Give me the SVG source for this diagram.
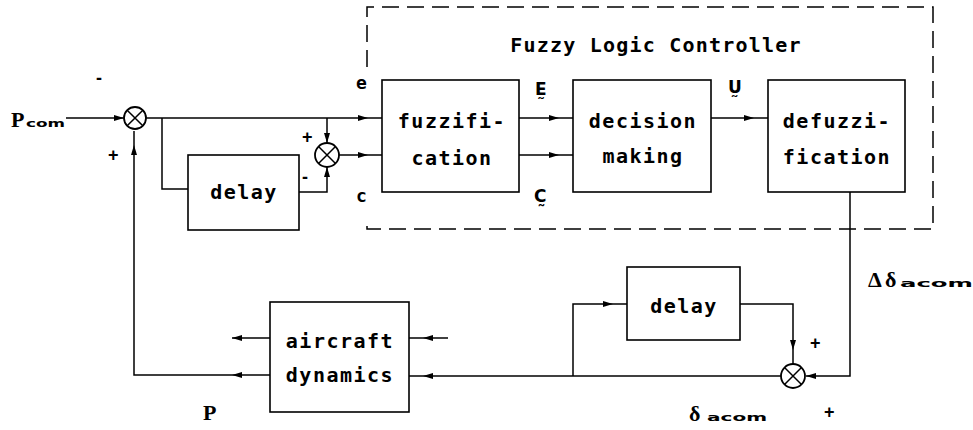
<svg xmlns="http://www.w3.org/2000/svg" width="973" height="430" viewBox="0 0 973 430">
<style>
.box{fill:none;stroke:#000;stroke-width:1.6}
.ln{fill:none;stroke:#000;stroke-width:1.5}
.dash{fill:none;stroke:#000;stroke-width:1.5;stroke-dasharray:17 8}
.sum{fill:#fff;stroke:#000;stroke-width:1.8}
.t{font-family:"DejaVu Sans Mono",monospace;font-weight:bold;font-size:20px;letter-spacing:1.5px;text-anchor:middle;fill:#000}
.l{font-family:"DejaVu Sans Mono",monospace;font-weight:bold;font-size:18px;fill:#000}
.fz{font-family:"DejaVu Sans",sans-serif;font-weight:bold;font-size:17px;fill:#000}
.s{font-family:"Liberation Serif",serif;font-weight:bold;fill:#000}
.sub{font-family:"DejaVu Sans",sans-serif;font-weight:bold;font-size:11px;fill:#000}
.sg{font-family:"Liberation Sans",sans-serif;font-weight:bold;font-size:18px;fill:#000}
</style>
<defs>
<marker id="a" markerUnits="userSpaceOnUse" markerWidth="10" markerHeight="8" viewBox="0 0 10 8" refX="10" refY="4" orient="auto"><path d="M0,1 L10,4 L0,7 z" fill="#000"/></marker>
<marker id="g" markerUnits="userSpaceOnUse" markerWidth="24" markerHeight="8" viewBox="0 0 24 8" refX="24" refY="4" orient="auto"><path d="M0,1 L10,4 L0,7 z" fill="#000"/></marker>
</defs>

<g id="flc-boundary">
<path class="dash" d="M367,67 V7 H933 V229 H367 V218"/>
<text class="t" x="656" y="52" style="letter-spacing:1.2px">Fuzzy Logic Controller</text>
</g>

<g id="connectors">
<path class="ln" d="M66,118 H124" marker-end="url(#a)"/>
<path class="ln" d="M146,118 H382" marker-end="url(#g)"/>
<path class="ln" d="M162,118 V189 H188"/>
<path class="ln" d="M327,118 V143" marker-end="url(#a)"/>
<path class="ln" d="M299,192 H327 V167" marker-end="url(#a)"/>
<path class="ln" d="M339,155 H382" marker-end="url(#g)"/>
<path class="ln" d="M519,118 H573" marker-end="url(#g)"/>
<path class="ln" d="M519,155 H573" marker-end="url(#g)"/>
<path class="ln" d="M711,118 H768" marker-end="url(#g)"/>
<path class="ln" d="M850,192 V376 H806" marker-end="url(#a)"/>
<path class="ln" d="M781,376 H409" marker-end="url(#g)"/>
<path class="ln" d="M573,376 V304 H627" marker-end="url(#g)"/>
<path class="ln" d="M740,304 H793 V364" marker-end="url(#g)"/>
<path class="ln" d="M448,338 H409" marker-end="url(#g)"/>
<path class="ln" d="M270,338 H232" marker-end="url(#a)"/>
<path class="ln" d="M270,375 H232" marker-end="url(#a)"/>
<path class="ln" d="M232,375 H134 V131" marker-end="url(#g)"/>
</g>

<g id="sum1">
<circle class="sum" cx="135" cy="118" r="11"/>
<path class="ln" d="M127.2,110.2 L142.8,125.8 M142.8,110.2 L127.2,125.8"/>
</g>
<g id="sum2">
<circle class="sum" cx="327" cy="155" r="12"/>
<path class="ln" d="M318.5,146.5 L335.5,163.5 M335.5,146.5 L318.5,163.5"/>
</g>
<g id="sum3">
<circle class="sum" cx="793" cy="376" r="12"/>
<path class="ln" d="M784.5,367.5 L801.5,384.5 M801.5,367.5 L784.5,384.5"/>
</g>

<g id="delay1">
<rect class="box" x="188" y="155" width="111" height="75"/>
<text class="t" x="244" y="199">delay</text>
</g>
<g id="fuzzification">
<rect class="box" x="382" y="80" width="137" height="112"/>
<text class="t" x="452" y="128">fuzzifi-</text>
<text class="t" x="452" y="165">cation</text>
</g>
<g id="decision">
<rect class="box" x="573" y="80" width="138" height="112"/>
<text class="t" x="643" y="128">decision</text>
<text class="t" x="643" y="163">making</text>
</g>
<g id="defuzzification">
<rect class="box" x="768" y="80" width="137" height="112"/>
<text class="t" x="837" y="128">defuzzi-</text>
<text class="t" x="837" y="164">fication</text>
</g>
<g id="delay2">
<rect class="box" x="627" y="267" width="113" height="73"/>
<text class="t" x="684" y="313">delay</text>
</g>
<g id="aircraft">
<rect class="box" x="270" y="302" width="139" height="110"/>
<text class="t" x="340" y="348">aircraft</text>
<text class="t" x="340" y="382">dynamics</text>
</g>

<g id="labels">
<text class="s" x="11" y="127" font-size="22">P</text>
<text class="sub" x="26" y="127" textLength="39" lengthAdjust="spacingAndGlyphs">com</text>
<text class="sg" x="96" y="84">-</text>
<text class="sg" x="108" y="161">+</text>
<text class="sg" x="302" y="143" font-size="22">+</text>
<text class="sg" x="302" y="183">-</text>
<text class="l" x="356" y="89">e</text>
<text class="l" x="356" y="202">c</text>
<text class="fz" x="535" y="95">Ḛ</text>
<text class="fz" x="534" y="202">C̰</text>
<text class="fz" x="728" y="93">Ṵ</text>
<text class="s" x="868" y="287" font-size="22">Δ</text>
<text class="s" x="885" y="287" font-size="22">δ</text>
<text class="sub" x="900" y="287" textLength="73" lengthAdjust="spacingAndGlyphs">acom</text>
<text class="sg" x="810" y="349">+</text>
<text class="s" x="203" y="420" font-size="22">P</text>
<text class="s" x="689" y="421" font-size="22">δ</text>
<text class="sub" x="707" y="421" textLength="60" lengthAdjust="spacingAndGlyphs">acom</text>
<text class="sg" x="824" y="418">+</text>
</g>
</svg>
